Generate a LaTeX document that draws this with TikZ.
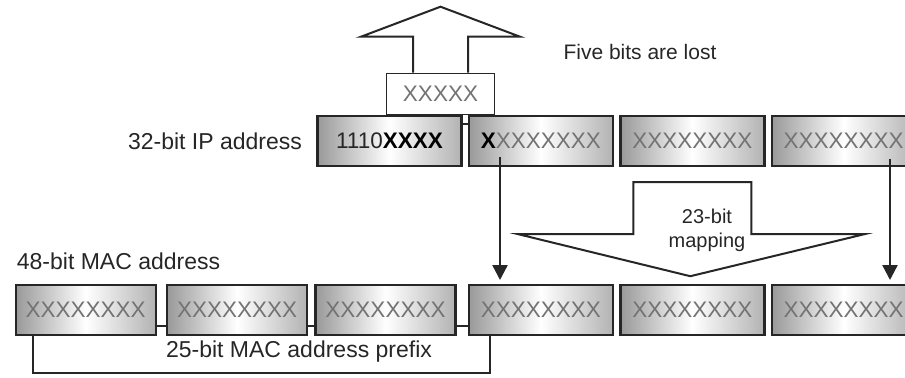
\documentclass[tikz,border=0pt]{standalone}
\usepackage{fontspec}
\setmainfont{Liberation Sans}
\usetikzlibrary{positioning,calc,arrows.meta}

\begin{document}
\begin{tikzpicture}[
    x=0.5pt, y=-0.5pt,
    octet/.style={rectangle, draw=black!85, line width=1.2pt, left color=black!40, right color=black!30, middle color=white, minimum width=72pt, minimum height=25pt, inner sep=0pt, font=\fontsize{11.25}{13}\selectfont, text=black!55},
    lbl/.style={inner sep=1pt, text=black!85, font=\fontsize{11.5}{14}\selectfont},
    hollow/.style={draw=black!85, line width=1pt, line join=miter},
    drop/.style={-{Triangle[width=7.5pt,length=7.5pt]}, line width=1.2pt, black!85, shorten >=2pt},
    link/.style={line width=1pt, black!85}
]
    \useasboundingbox (0,0) rectangle (905,377);
    \clip (0,0) rectangle (905,377);

    \node[rectangle, draw=black!85, line width=0.8pt, fill=white, minimum width=54pt, minimum height=20.5pt, font=\fontsize{11.25}{13}\selectfont, text=black!55] (lost) at (440.5,94) {XXXXX};
    \draw[hollow] (lost.north) ++(-27.5,0) -- ++(0,-36) -- ++(-52,0) -- ++(79.5,-30) -- ++(79.5,30) -- ++(-52,0) -- ++(0,36);
    \node[lbl, font=\fontsize{10.5}{13}\selectfont] (lostlbl) at (640,52) {Five bits are lost};

    \node[octet] (ip1) at (389.5,141) {\textcolor{black!85}{1110}\textcolor{black}{\bfseries XXXX}};
    \node[octet, right=2.5pt of ip1] (ip2) {\textcolor{black}{\bfseries X}XXXXXXX};
    \node[octet, right=2.5pt of ip2] (ip3) {XXXXXXXX};
    \node[octet, right=2.5pt of ip3] (ip4) {XXXXXXXX};
    \node[lbl, left=6pt of ip1] (iplbl) {32-bit IP address};
    \draw[link] ([yshift=8.5pt]ip1.east) -- ([yshift=8.5pt]ip2.west);

    \node[octet, below=58.4pt of ip2] (mac4) {XXXXXXXX};
    \node[octet, right=2.5pt of mac4] (mac5) {XXXXXXXX};
    \node[octet, right=2.5pt of mac5] (mac6) {XXXXXXXX};
    \node[octet, minimum width=70pt, left=5.5pt of mac4] (mac3) {XXXXXXXX};
    \node[octet, minimum width=70pt, left=3pt of mac3] (mac2) {XXXXXXXX};
    \node[octet, minimum width=70pt, left=4.5pt of mac2] (mac1) {XXXXXXXX};
    \node[lbl, above right=6pt and 0pt of mac1.north west] (maclbl) {48-bit MAC address};
    \foreach \a/\b in {mac1/mac2, mac2/mac3, mac3/mac4}
        \draw[link] ([yshift=-8pt]\a.east) -- ([yshift=-8pt]\b.west);

    \draw[drop] ([xshift=-20.45pt,yshift=-8pt]ip2.center) -- ([xshift=-20.45pt]mac4.north);
    \draw[drop] ([xshift=23.15pt,yshift=-9pt]ip4.center) -- ([xshift=23.15pt]mac6.north);

    \draw[hollow] ([yshift=-7.5pt]ip3.south) ++(-59,0) -- ++(118,0) -- ++(0,52) -- ++(113,0) -- ++(-174,42) -- ++(-172,-42) -- ++(115,0) -- cycle;
    \node[lbl, font=\fontsize{10}{12}\selectfont, align=center] (maplbl) at (707,230) {23-bit\\mapping};

    \coordinate (brk) at (0,373);
    \draw[link] ([xshift=9pt]mac1.south west) -- ([xshift=9pt]mac1.south west |- brk) -| ([xshift=11pt]mac4.south west);
    \node[lbl] (pfxlbl) at (299,352) {25-bit MAC address prefix};
\end{tikzpicture}
\end{document}
